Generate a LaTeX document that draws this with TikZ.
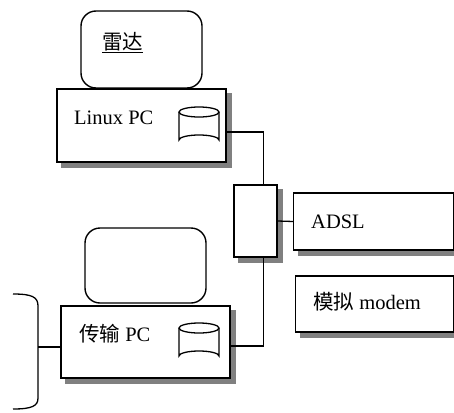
\documentclass[tikz,border=0pt]{standalone}
\usepackage{fontspec}
\setmainfont{Liberation Serif}
\newfontfamily\cjk{Noto Sans CJK SC}
\usetikzlibrary{calc,backgrounds}
\tikzset{
  unit/.style={draw, line width=1.4pt, fill=white, inner sep=0pt},
  monitor/.style={draw, line width=1.4pt, fill=white, inner sep=0pt, rounded corners=15pt},
  label/.style={inner sep=0pt, font=\fontsize{20.5}{24}\selectfont},
  wire/.style={line width=1.3pt},
  disk/.style={line width=1.3pt},
  shade box/.style={fill=black!50}
}
% draw a small disk cylinder centred at #1
\newcommand{\diskdrum}[1]{%
  \draw[disk, fill=white] ($(#1)+(-20,-14)$) -- ($(#1)+(-20,14)$)
    arc[start angle=180, end angle=360, x radius=20, y radius=5]
    -- ($(#1)+(20,-14)$);
  \draw[disk] ($(#1)+(0,-14)$) ellipse[x radius=20, y radius=5];
}
% grey drop shadow behind node #1
\newcommand{\boxshadow}[1]{%
  \fill[shade box] ([shift={(5,5)}]#1.south west) rectangle ([shift={(5,5)}]#1.north east);
}
\begin{document}
\begin{tikzpicture}[x=1pt, y=-1pt]
\useasboundingbox (0,0) rectangle (454,412);

% radar workstation
\node[monitor, minimum width=121pt, minimum height=77pt] (radar) at (141.5,49.5) {};
\node[label, anchor=base west] (radartxt) at (102,49) {\cjk\underline{雷达}};
\node[unit, minimum width=169pt, minimum height=73pt] (lpc) at (141.5,125.5) {};
\node[label, anchor=base west] (lpctxt) at (74,124) {Linux PC};
\coordinate (ldisk) at (199,126);
\diskdrum{ldisk}

% transmission workstation
\node[monitor, minimum width=121pt, minimum height=75pt] (tmon) at (145.5,265.5) {};
\node[unit, minimum width=169pt, minimum height=72pt] (tpc) at (145.5,342) {};
\node[label, anchor=base west] (tpctxt) at (79,341) {{\cjk 传输} PC};
\coordinate (tdisk) at (199,342);
\diskdrum{tdisk}

% hub and links
\node[unit, minimum width=43pt, minimum height=72pt] (hub) at (255.5,221) {};
\node[unit, minimum width=160pt, minimum height=57pt, anchor=west] (adsl) at (293,221.5) {};
\node[label, anchor=base west] (adsltxt) at (311,228) {ADSL};
\node[unit, minimum width=158pt, minimum height=56pt, anchor=west] (modem) at (295,304) {};
\node[label, anchor=base west] (modemtxt) at (313,309) {{\cjk 模拟} modem};

\begin{scope}[on background layer]
  \boxshadow{lpc}
  \boxshadow{tpc}
  \boxshadow{hub}
  \boxshadow{adsl}
  \boxshadow{modem}
\end{scope}

\draw[wire] ([yshift=-6.5pt]lpc.east) -| ([xshift=8pt]hub.north);
\draw[wire] ([yshift=-4pt]tpc.east) -| ([xshift=8pt]hub.south);
\draw[wire] (hub.east) -- (adsl.west);

% brace on the left of the transmission PC
\coordinate (bracemid) at (38,347);
\draw[wire] (13,294) .. controls (32,294) and (38,297) .. (38,306)
  -- (38,398) .. controls (38,406) and (32,409) .. (13,409);
\draw[wire] (bracemid) -- (bracemid -| tpc.west);
\end{tikzpicture}
\end{document}
